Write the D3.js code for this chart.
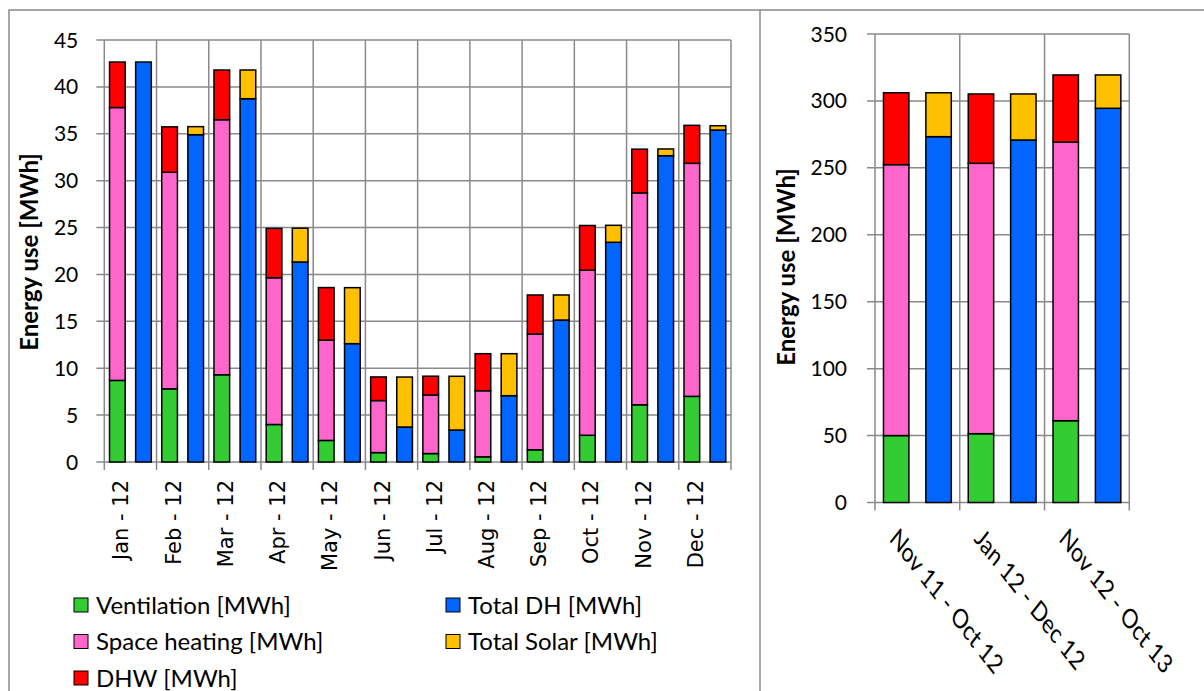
<!DOCTYPE html>
<html>
<head>
<meta charset="utf-8">
<script src="https://cdn.jsdelivr.net/npm/d3@7"></script>
<style>
body { margin: 0; background: #fff; }
text { font-family: Lato, "Open Sans", sans-serif; fill: #000; }
</style>
</head>
<body>
<svg id="chart" width="1204" height="691"></svg>
<script>
// monthly values, 2012
var months = ['Jan - 12', 'Feb - 12', 'Mar - 12', 'Apr - 12', 'May - 12', 'Jun - 12',
              'Jul - 12', 'Aug - 12', 'Sep - 12', 'Oct - 12', 'Nov - 12', 'Dec - 12']
var ventilation  = [8.7, 7.8, 9.3, 4.0, 2.3, 1.0, 0.9, 0.55, 1.3, 2.85, 6.1, 7.0]
var spaceHeating = [29.1, 23.1, 27.2, 15.65, 10.7, 5.55, 6.25, 7.05, 12.35, 17.6, 22.6, 24.85]
var dhw          = [4.85, 4.84, 5.3, 5.26, 5.6, 2.52, 2.0, 3.95, 4.16, 4.77, 4.66, 4.05]
var totalDH      = [42.65, 34.9, 38.74, 21.33, 12.62, 3.73, 3.41, 7.07, 15.14, 23.43, 32.66, 35.4]
var totalSolar   = [0, 0.86, 3.06, 3.6, 5.97, 5.33, 5.73, 4.48, 2.67, 1.81, 0.72, 0.46]

// yearly totals
var periods = ['Nov 11 - Oct 12', 'Jan 12 - Dec 12', 'Nov 12 - Oct 13']
var periodVentilation  = [50, 51.4, 61.1]
var periodSpaceHeating = [202.4, 202, 208.2]
var periodDhw          = [53.7, 51.8, 50.1]
var periodDH           = [273.3, 270.8, 294.5]
var periodSolar        = [32.8, 34.4, 24.9]

var monthTicks  = d3.range(0, 46, 5)
var periodTicks = d3.range(0, 351, 50)

var series = [
  {key: 'vent',  name: 'Ventilation [MWh]',   color: '#33cc33'},
  {key: 'dh',    name: 'Total DH [MWh]',      color: '#0066ff'},
  {key: 'space', name: 'Space heating [MWh]', color: '#ff66cc'},
  {key: 'solar', name: 'Total Solar [MWh]',   color: '#ffc000'},
  {key: 'dhw',   name: 'DHW [MWh]',           color: '#ff0000'}
]
var color = {}
series.forEach(function(s){ color[s.key] = s.color })

var svg = d3.select('#chart')
svg.append('rect').attr('width', 1204).attr('height', 691).attr('fill', '#fff')

// panel frames
var frame = svg.append('g').attr('fill', 'none').attr('stroke', '#8a8a8a').attr('stroke-width', 1.5)
frame.append('path').attr('d', 'M9,700V10H760V700')
frame.append('path').attr('d', 'M760,10H1210')

function rows(cats, v, s, d, h, so){
  return cats.map(function(c, i){
    return {cat: c, vent: v[i], space: s[i], dhw: d[i], dh: h[i], solar: so[i]}
  })
}

function drawPanel(o){
  var g = svg.append('g')
  var x = d3.scaleBand().domain(o.cats).range([o.left, o.right])
  var sub = d3.scaleBand().domain(['use', 'supply']).range([0, x.bandwidth()])
    .paddingInner(0.4).paddingOuter(0.2)
  var y = d3.scaleLinear().domain([0, o.ticks[o.ticks.length - 1]]).range([o.bottom, o.top])

  // grid
  var grid = g.append('g').attr('stroke', '#8a8a8a').attr('stroke-width', 1.5)
  grid.selectAll('line.h').data(o.ticks).join('line')
    .attr('x1', o.left - 8).attr('x2', o.right)
    .attr('y1', y).attr('y2', y)
  grid.selectAll('line.v').data(d3.range(o.cats.length + 1)).join('line')
    .attr('x1', function(i){ return o.left + i * x.step() })
    .attr('x2', function(i){ return o.left + i * x.step() })
    .attr('y1', o.top).attr('y2', o.bottom + 8)

  g.selectAll('text.tick').data(o.ticks).join('text')
    .attr('x', o.left - o.labelGap).attr('y', y)
    .attr('dy', '0.36em').attr('text-anchor', 'end')
    .style('font-size', '21px')
    .text(function(d){ return d })

  var data = o.data
  var stacks = [
    {grp: 'use', layers: d3.stack().keys(['vent', 'space', 'dhw'])(data)},
    {grp: 'supply', layers: d3.stack().keys(['dh', 'solar'])(data)}
  ]
  stacks.forEach(function(st){
    g.append('g').selectAll('g').data(st.layers).join('g')
      .attr('fill', function(l){ return color[l.key] })
      .selectAll('rect').data(function(l){ return l.filter(function(d){ return d[1] > d[0] }) })
      .join('rect')
      .attr('x', function(d){ return x(d.data.cat) + sub(st.grp) })
      .attr('width', sub.bandwidth())
      .attr('y', function(d){ return y(d[1]) })
      .attr('height', function(d){ return y(d[0]) - y(d[1]) })
      .attr('stroke', '#000').attr('stroke-width', 1.5)
  })

  g.append('text')
    .attr('transform', 'translate(' + o.titleX + ',' + o.titleY + ') rotate(-90)')
    .attr('text-anchor', 'middle')
    .style('font-size', '24px').style('font-weight', 'bold')
    .text('Energy use [MWh]')

  o.catLabels(g, x)
}

drawPanel({
  cats: months, ticks: monthTicks,
  data: rows(months, ventilation, spaceHeating, dhw, totalDH, totalSolar),
  left: 104.3, right: 731, top: 40, bottom: 462, labelGap: 26,
  titleX: 38, titleY: 252,
  catLabels: function(g, x){
    g.selectAll('text.cat').data(months).join('text')
      .attr('transform', function(d){
        return 'translate(' + (x(d) + x.bandwidth() / 2 - 2) + ',480) rotate(-90)'
      })
      .attr('text-anchor', 'end')
      .style('font-family', '"DejaVu Sans", Verdana, sans-serif')
      .style('font-size', '21px')
      .text(function(d){ return d })
  }
})

drawPanel({
  cats: periods, ticks: periodTicks,
  data: rows(periods, periodVentilation, periodSpaceHeating, periodDhw, periodDH, periodSolar),
  left: 875, right: 1129.3, top: 34, bottom: 502.5, labelGap: 28,
  titleX: 795, titleY: 267,
  catLabels: function(g, x){
    g.selectAll('text.cat').data(periods).join('text')
      .attr('transform', function(d){
        return 'translate(' + (x(d) + x.bandwidth() / 2 - 29) + ',540) scale(1,1.28) rotate(45)'
      })
      .style('font-size', '21px')
      .text(function(d){ return d })
  }
})

// legend, two columns
var legend = svg.append('g')
legend.selectAll('g').data(series).join('g')
  .attr('transform', function(d, i){
    return 'translate(' + (i % 2 ? 446 : 74) + ',' + (605 + Math.floor(i / 2) * 36.5) + ')'
  })
  .each(function(d){
    var sel = d3.select(this)
    sel.append('rect').attr('x', 0).attr('y', -7).attr('width', 14).attr('height', 14)
      .attr('fill', d.color).attr('stroke', '#000').attr('stroke-width', 1)
    sel.append('text').attr('x', 22).attr('dy', '0.36em')
      .style('font-size', '24px').text(d.name)
  })
</script>
</body>
</html>
